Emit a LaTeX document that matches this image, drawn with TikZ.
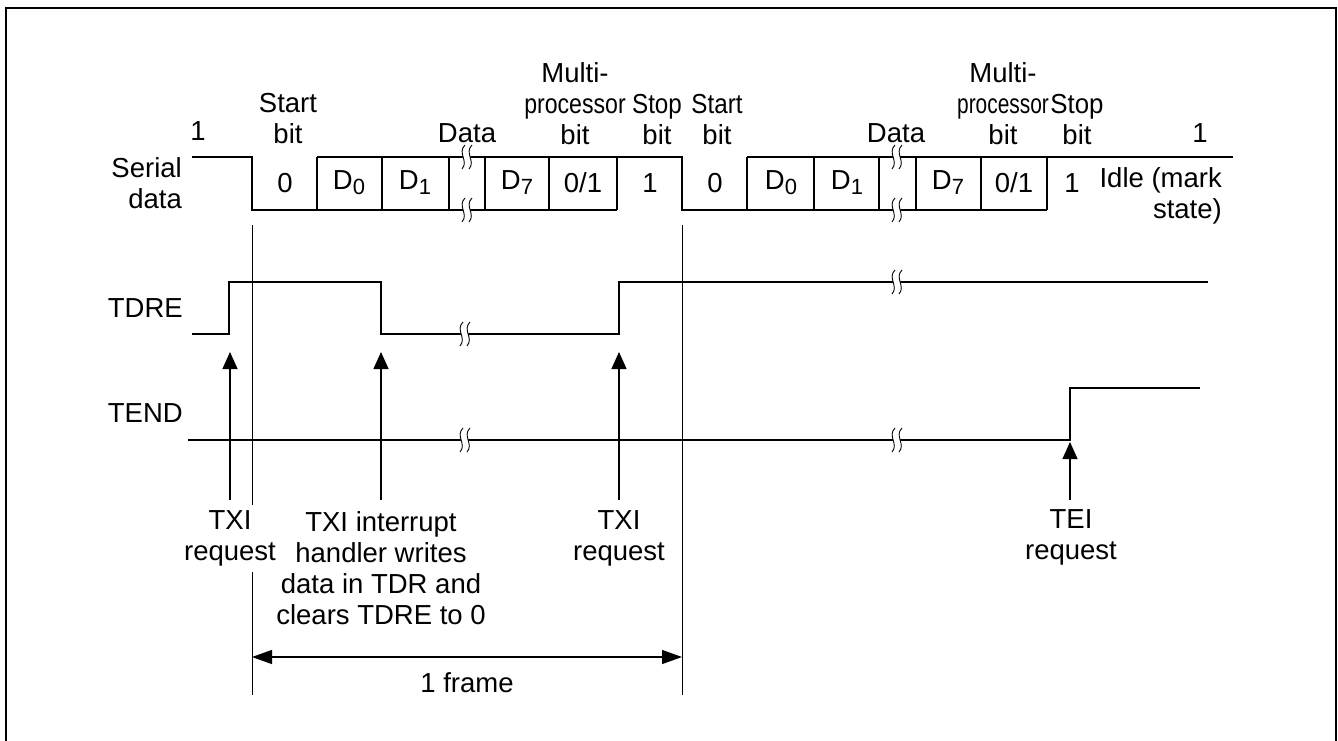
\documentclass[tikz,border=0pt]{standalone}
\usepackage{fontspec}
\setmainfont{Liberation Sans}
\usepackage{graphicx}
\usetikzlibrary{arrows.meta}
\newcommand{\subd}[1]{\raisebox{-5pt}{\fontsize{22}{22}\selectfont #1}}
\begin{document}
\begin{tikzpicture}[x=1pt,y=-1pt,
  font=\fontsize{27.5}{31}\selectfont,
  wave/.style={line width=2pt, line join=miter},
  cell/.style={line width=1.3pt},
  thinline/.style={line width=1pt},
  lbl/.style={inner sep=0pt, align=center},
  req/.style={line width=1.3pt, -{Triangle[length=17pt,width=15pt]}},
  frm/.style={line width=1.3pt, {Triangle[length=20pt,width=14pt]}-{Triangle[length=20pt,width=14pt]}},
  brk/.pic={
    \fill[white] (-2,-12) .. controls (-10,-4) and (2,4) .. (-5,12) -- (2,12) .. controls (9,4) and (-3,-4) .. (5,-12) -- cycle;
    \draw[line width=0.9pt] (-2,-12) .. controls (-10,-4) and (2,4) .. (-5,12);
    \draw[line width=0.9pt] (5,-12) .. controls (-3,-4) and (9,4) .. (2,12);
  }]
\useasboundingbox (0,0) rectangle (1338,740);
% border
\draw[line width=2pt] (6,741) -- (6,8) -- (1336,8) -- (1336,741);

% ---- serial data waveform
\draw[wave] (192,157) -- (252,157) -- (252,210) -- (617,210);
\draw[wave] (317,157) -- (682,157) -- (682,210) -- (1047,210);
\draw[wave] (747,157) -- (1233,157);
\foreach \x in {317,382,449,485,549,617,747,814,879,916,981,1047}
  \draw[cell] (\x,157) -- (\x,210);
\pic at (467,157) {brk};
\pic at (467,210) {brk};
\pic at (897,157) {brk};
\pic at (897,210) {brk};

% ---- TDRE
\draw[wave] (192,334) -- (229,334) -- (229,282) -- (381,282) -- (381,334) -- (619,334) -- (619,282) -- (1208,282);
\pic at (465,334) {brk};
\pic at (897,282) {brk};

% ---- TEND
\draw[wave] (188,440) -- (1070,440) -- (1070,388) -- (1200,388);
\pic at (465,440) {brk};
\pic at (897,440) {brk};

% ---- frame boundary lines
\coordinate (fa1) at (252,225);
\coordinate (fa2) at (252,505);
\coordinate (fa3) at (252,572);
\coordinate (fa4) at (252,695);
\coordinate (fb1) at (682,225);
\coordinate (fb2) at (682,695);
\draw[thinline] (fa1) -- (fa2);
\draw[thinline] (fa3) -- (fa4);
\draw[thinline] (fb1) -- (fb2);
\coordinate (fl) at (252,657);
\coordinate (fr) at (682,657);
\draw[frm] (fl) -- (fr);

% ---- labels, serial data
\node[lbl] (one1) at (198,131) {1};
\node[lbl, anchor=east, align=right] (serial) at (182,183) {Serial\\data};
\node[lbl] (start1) at (288,119) {Start\\bit};
\node[lbl] (data1) at (467,133) {Data};
\node[lbl] (mp1) at (575,104) {Multi-\\\scalebox{0.84}[1]{processor}\\bit};
\node[lbl] (stop1) at (657,120) {\scalebox{0.88}[1]{Stop}\\bit};
\node[lbl] (start2) at (717,120) {\scalebox{0.88}[1]{Start}\\bit};
\node[lbl] (data2) at (896,133) {Data};
\node[lbl] (mp2) at (1003,104) {Multi-\\\scalebox{0.76}[1]{processor}\\bit};
\node[lbl] (stop2) at (1077,120) {\scalebox{0.94}[1]{Stop}\\bit};
\node[lbl] (one2) at (1200,133) {1};
\node[lbl, anchor=east, align=right] (idle) at (1222,196) {Idle (mark\\state)};

\node[lbl] (c1) at (285,183) {0};
\node[lbl] (c2) at (349,183) {D\subd{0}};
\node[lbl] (c3) at (415,183) {D\subd{1}};
\node[lbl] (c4) at (517,183) {D\subd{7}};
\node[lbl] (c5) at (583,183) {0/1};
\node[lbl] (c6) at (650,183) {1};
\node[lbl] (c7) at (715,183) {0};
\node[lbl] (c8) at (781,183) {D\subd{0}};
\node[lbl] (c9) at (847,183) {D\subd{1}};
\node[lbl] (c10) at (948,183) {D\subd{7}};
\node[lbl] (c11) at (1014,183) {0/1};
\node[lbl] (c12) at (1072,183) {1};

\node[lbl, anchor=east] (tdre) at (183,308) {TDRE};
\node[lbl, anchor=east] (tend) at (183,413) {TEND};

% ---- request arrows
\coordinate (a1s) at (230,500);
\coordinate (a1t) at (230,352);
\coordinate (a2s) at (381,500);
\coordinate (a2t) at (381,352);
\coordinate (a3s) at (619,500);
\coordinate (a3t) at (619,352);
\coordinate (a4s) at (1070,500);
\coordinate (a4t) at (1070,442);
\draw[req] (a1s) -- (a1t);
\draw[req] (a2s) -- (a2t);
\draw[req] (a3s) -- (a3t);
\draw[req] (a4s) -- (a4t);

\node[lbl] (txi1) at (230,538) {TXI\\request};
\node[lbl] (handler) at (381,568) {TXI interrupt\\handler writes\\data in TDR and\\clears TDRE to 0};
\node[lbl] (txi2) at (619,538) {TXI\\request};
\node[lbl] (tei) at (1071,537) {TEI\\request};
\node[lbl] (frame) at (467,683) {1 frame};
\end{tikzpicture}
\end{document}
